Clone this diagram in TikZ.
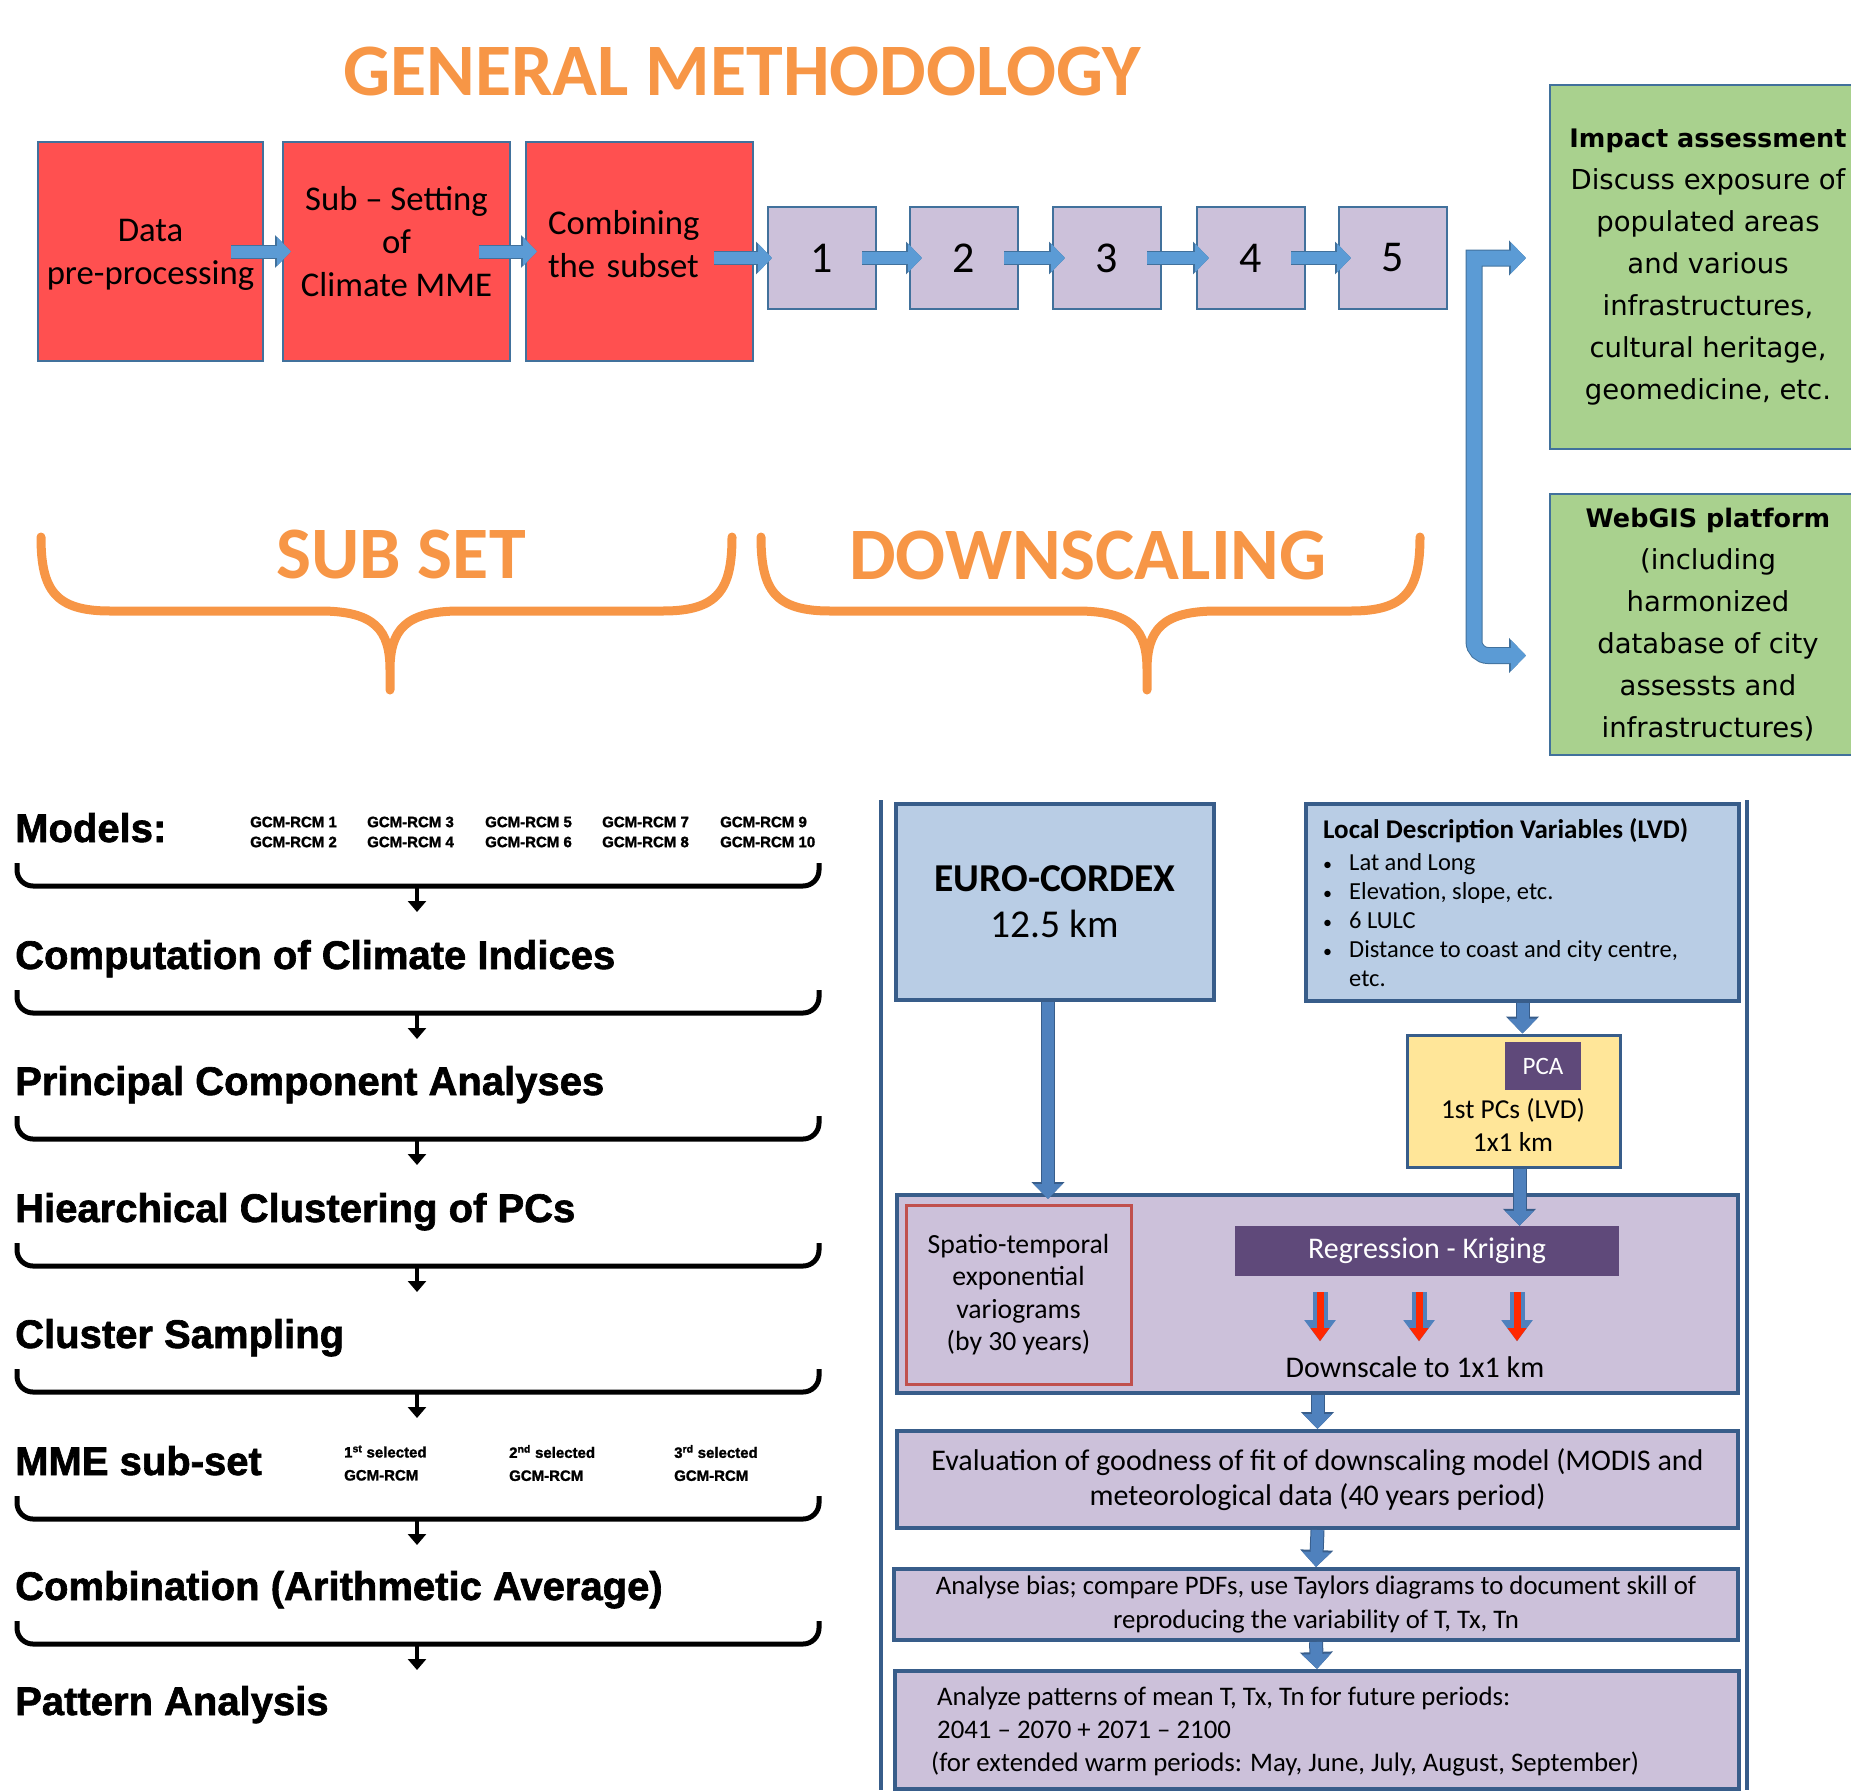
\documentclass[tikz,border=0pt]{standalone}
\usepackage{fontspec}
\setmainfont{Carlito}
\newfontfamily\condfont{Liberation Sans}[BoldFeatures={FakeBold=1.6}]
\newfontfamily\verdfont{DejaVu Sans}
\usetikzlibrary{arrows.meta, positioning, calc}
\definecolor{cOrange}{RGB}{247,150,70}
\definecolor{cRed}{RGB}{255,80,80}
\definecolor{cLilac}{RGB}{204,193,218}
\definecolor{cSky}{RGB}{185,205,229}
\definecolor{cGreen}{RGB}{169,209,142}
\definecolor{cYellow}{RGB}{255,230,153}
\definecolor{cPlum}{RGB}{95,73,122}
\definecolor{cEdge}{RGB}{65,113,156}
\definecolor{cNavy}{RGB}{56,93,138}
\definecolor{cArrow}{RGB}{91,155,213}
\definecolor{cArrowDk}{RGB}{79,129,189}
\definecolor{cBrick}{RGB}{192,80,77}
\definecolor{cFlame}{RGB}{255,40,0}
\newcommand{\fs}[2]{\fontsize{#1}{#2}\selectfont}
\newcommand{\lvditem}{\makebox[26pt][l]{\fs{18}{29}\textbullet}}
\tikzset{
	bigtitle/.style ={inner sep=0pt, text=cOrange, font=\bfseries\fs{74}{80}},
	topbox/.style   ={rectangle, draw=cEdge, line width=2pt, inner sep=0pt, align=center, font=\fs{34.7}{43}},
	numbox/.style   ={topbox, fill=cLilac, minimum width=108pt, minimum height=102pt, font=\fs{44}{50}},
	greenbox/.style ={rectangle, draw=cEdge, line width=2pt, fill=cGreen, minimum width=316pt, inner sep=0pt, align=center, font=\verdfont\fs{27.5}{42}},
	panelbox/.style ={rectangle, draw=cNavy, line width=4pt, inner sep=0pt, align=center},
	plumbox/.style  ={rectangle, fill=cPlum, text=white, inner sep=0pt},
	heading/.style  ={anchor=base west, inner sep=0pt, font=\condfont\bfseries\fs{40}{44}},
	gcm/.style      ={anchor=west, inner sep=0pt, align=left, font=\condfont\bfseries\fs{15}{20}},
	frame/.style    ={draw=cNavy, line width=4pt},
	orbrace/.style  ={draw=cOrange, line width=9pt, line cap=round},
	brc/.style      ={draw=black, line width=5pt, rounded corners=16pt},
	tinyarr/.style  ={draw=black, line width=4pt, -{Triangle[width=18pt,length=11pt]}},
	flowarr/.style  ={draw=cArrow, line width=12pt, -{Triangle[width=28pt,length=14pt]}, preaction={draw=cEdge, line width=14pt, -{Triangle[width=32pt,length=16pt]}}},
	bigarr/.style   ={draw=cArrow, line width=15pt, {Triangle[width=30pt,length=15pt]}-{Triangle[width=30pt,length=15pt]}, preaction={draw=cEdge, line width=17pt, {Triangle[width=34pt,length=17pt]}-{Triangle[width=34pt,length=17pt]}}},
	downarr/.style  ={draw=cArrowDk, line width=12pt, -{Triangle[width=28pt,length=15pt]}, preaction={draw=cNavy, line width=14pt, -{Triangle[width=32pt,length=17pt]}}},
	redarr/.style   ={draw=cFlame, line width=7pt, -{Triangle[width=18pt,length=13pt]}, preaction={draw=cArrowDk, line width=15pt, -{Triangle[width=30pt,length=21pt]}}},
}

\begin{document}
\begin{tikzpicture}[x=1pt, y=-1pt]
	\useasboundingbox (0,0) rectangle (1851,1790);

	\node[bigtitle] (title) at (742,71) {GENERAL METHODOLOGY};
	\node[bigtitle] (subsetlbl) at (401,555) {SUB SET};
	\node[bigtitle] (downlbl) at (1088,555) {DOWNSCALING};
	\foreach \l/\m/\r in {41/390/732, 761/1147/1420}
		\draw[orbrace] (\l,537) .. controls (\l,590) and ({\l+14},611) .. ({\l+69},611) -- ({\m-70},611)
			.. controls ({\m-15},611) and (\m,630) .. (\m,670) -- (\m,690)
			(\m,670) .. controls (\m,630) and ({\m+15},611) .. ({\m+70},611) -- ({\r-69},611)
			.. controls ({\r-14},611) and (\r,590) .. (\r,537);

	% methodology chain
	\node[topbox, fill=cRed, minimum width=225pt, minimum height=219pt, text depth=0pt] (data) at (150.5,251.5) {Data\\pre-processing};
	\node[topbox, fill=cRed, minimum width=227pt, minimum height=219pt, text depth=20pt] (subset) at (396.5,251.5) {Sub -- Setting\\of\\Climate MME};
	\node[topbox, fill=cRed, minimum width=227pt, minimum height=219pt, align=left, text width=183pt, text depth=58pt] (combine) at (639.5,251.5) {Combining\\the subset};
	\foreach \i/\x in {1/822,2/964,3/1107,4/1251,5/1393}
		\node[numbox] (s\i) at (\x,258) {\i};
	\draw[flowarr] ([xshift=-33pt]data.east) -- ([xshift=9pt]subset.west);
	\draw[flowarr] ([xshift=-32pt]subset.east) -- ([xshift=12pt]combine.west);
	\draw[flowarr] ([xshift=-40pt]combine.east |- s1.west) -- ([xshift=5pt]s1.west);
	\foreach \i/\j in {1/2,2/3,3/4,4/5}
		\draw[flowarr] ([xshift=-15pt]s\i.east) -- ([xshift=13pt]s\j.west);

	\node[greenbox, minimum height=364pt] (impact) at (1708,267) {{\fs{25.5}{42}\bfseries Impact assessment}\\Discuss exposure of\\populated areas\\and various\\infrastructures,\\cultural heritage,\\geomedicine, etc.};
	\node[greenbox, minimum height=261pt] (webgis) at (1708,624.5) {{\fs{25.5}{42}\bfseries WebGIS platform}\\(including\\harmonized\\database of city\\assessts and\\infrastructures)};
	\coordinate (forktop) at ([xshift=26pt]s5.east);
	\coordinate (forkbot) at ([yshift=-31pt]forktop |- webgis.west);
	\draw[bigarr] ([xshift=-23pt]impact.west |- forktop) -- (forktop) [rounded corners=14pt] -- (forkbot) -- ([xshift=-23pt]webgis.west |- forkbot);

	% sub set steps
	\node[heading] (m0) at (15,842) {Models:};
	\node[heading] (m1) at (15,969) {Computation of Climate Indices};
	\node[heading] (m2) at (15,1095) {Principal Component Analyses};
	\node[heading] (m3) at (15,1222) {Hiearchical Clustering of PCs};
	\node[heading] (m4) at (15,1348) {Cluster Sampling};
	\node[heading] (m5) at (15,1475) {MME sub-set};
	\node[heading] (m6) at (15,1600) {Combination (Arithmetic Average)};
	\node[heading] (m7) at (15,1715) {Pattern Analysis};
	\foreach \a/\b/\x in {1/2/250, 3/4/367, 5/6/485, 7/8/602, 9/10/720}
		\node[gcm] (gcm\a) at (\x,832) {GCM-RCM \a\\GCM-RCM \b};
	\node[gcm, font=\condfont\bfseries\fs{15}{23}] (sel1) at (344,1463) {1\textsuperscript{st} selected\\GCM-RCM};
	\node[gcm, font=\condfont\bfseries\fs{15}{23}] (sel2) at (509,1463) {2\textsuperscript{nd} selected\\GCM-RCM};
	\node[gcm, font=\condfont\bfseries\fs{15}{23}] (sel3) at (674,1463) {3\textsuperscript{rd} selected\\GCM-RCM};
	\foreach \b in {842,969,1095,1222,1348,1475,1600} {
		\draw[brc] (17,{\b+21}) |- (819,{\b+44}) -- (819,{\b+21});
		\coordinate (bmid\b) at (417,{\b+44});
		\draw[tinyarr] (bmid\b) -- ++(0,26);
	}

	% downscaling panel
	\draw[frame] (881,800) -- (881,1790);
	\draw[frame] (1747,800) -- (1747,1790);
	\node[panelbox, fill=cSky, minimum width=318pt, minimum height=196pt, font=\fs{39.5}{46}] (euro) at (1055,902) {\textbf{EURO-CORDEX}\\12.5 km};
	\node[panelbox, fill=cSky, minimum width=433pt, minimum height=197pt] (lvd) at (1522.5,902.5) {};
	\node[anchor=north west, inner sep=0pt, align=left, font=\fs{24.5}{29}] (lvdtext) at (1323,818) {{\bfseries\fs{27}{29}Local Description Variables (LVD)}\\[3pt]
		\lvditem Lat and Long\\
		\lvditem Elevation, slope, etc.\\
		\lvditem 6 LULC\\
		\lvditem Distance to coast and city centre,\\
		\hspace*{26pt}etc.};
	\node[panelbox, line width=3pt, fill=cYellow, minimum width=213pt, minimum height=132pt] (pca) at (1513.5,1101) {};
	\node[plumbox, minimum width=76pt, minimum height=48pt, font=\fs{25}{28}] (pcatag) at (1543,1066) {PCA};
	\node[inner sep=0pt, align=center, font=\fs{27.4}{33}] (pcatext) at (1513,1125) {1st PCs (LVD)\\1x1 km};

	\node[panelbox, fill=cLilac, minimum width=841pt, minimum height=198pt] (main) at (1317.5,1294) {};
	\node[rectangle, draw=cBrick, line width=3pt, fill=cLilac, minimum width=225pt, minimum height=179pt, inner sep=0pt, align=center, font=\fs{27.7}{32.5}] (vario) at (1018.5,1294.5) {Spatio-temporal\\exponential\\variograms\\(by 30 years)};
	\node[plumbox, minimum width=384pt, minimum height=50pt, font=\fs{30}{34}] (regk) at (1427,1251) {Regression - Kriging};
	\node[inner sep=0pt, font=\fs{30}{36}] (down) at (1415,1367) {Downscale to 1x1 km};
	\foreach \dx in {-107,-8,90}
		\draw[redarr] ([xshift=\dx pt, yshift=-16pt]regk.south) -- ([xshift=\dx pt, yshift=-65pt]regk.south);

	\node[panelbox, fill=cLilac, minimum width=841pt, minimum height=97pt, font=\fs{30}{35}] (eval) at (1317.5,1479.5) {Evaluation of goodness of fit of downscaling model (MODIS and\\meteorological data (40 years period)};
	\node[panelbox, fill=cLilac, minimum width=844pt, minimum height=71pt, font=\fs{26.8}{34}] (bias) at (1316,1604.5) {Analyse bias; compare PDFs, use Taylors diagrams to document skill of\\reproducing the variability of T, Tx, Tn};
	\node[panelbox, fill=cLilac, minimum width=844pt, minimum height=118pt] (future) at (1317,1730) {};
	\node[anchor=west, inner sep=0pt, align=left, font=\fs{26.8}{33}] (futuretext) at (931,1731) {\hspace*{6pt}Analyze patterns of mean T, Tx, Tn for future periods:\\\hspace*{6pt}2041 -- 2070 + 2071 -- 2100\\(for extended warm periods: May, June, July, August, September)};

	\draw[downarr] ([xshift=-7pt]euro.south) -- ([xshift=-7pt, yshift=-6pt]euro.south |- main.north);
	\draw[downarr] (lvd.south) -- (lvd.south |- pca.north);
	\draw[downarr] ([xshift=6pt]pca.south) -- ([xshift=6pt]pca.south |- regk.north);
	\draw[downarr] (main.south) -- (eval.north);
	\draw[downarr] (eval.south) -- (bias.north);
	\draw[downarr] (bias.south) -- (future.north);
\end{tikzpicture}
\end{document}
